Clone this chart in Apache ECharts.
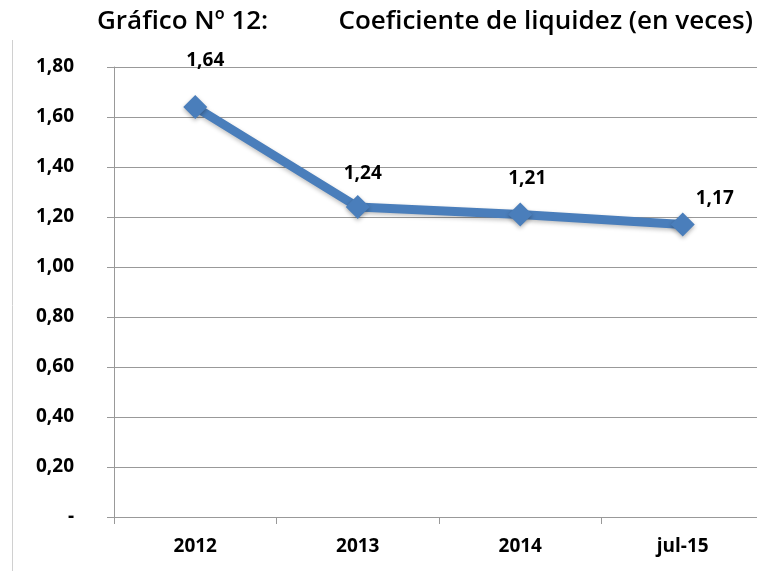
<!DOCTYPE html>
<html>
<head>
<meta charset="utf-8">
<script src="https://cdn.jsdelivr.net/npm/echarts@6/dist/echarts.min.js"></script>
<style>
  html, body { margin: 0; padding: 0; background: #fff; }
  #main { width: 757px; height: 571px; }
</style>
</head>
<body>
<div id="main"></div>
<script>
const categories = ['2012', '2013', '2014', 'jul-15'];
const liquidez = [1.64, 1.24, 1.21, 1.17];
// where each value label sits relative to its point (px), as in the original
const labelOffsets = [[10, -46], [5, -33], [7, -36], [32, -26]];

const fmt = v => v === 0 ? '-' : v.toFixed(2).replace('.', ',');

const chart = echarts.init(document.getElementById('main'));

const font = 'Open Sans';

chart.setOption({
  animation: false,
  title: [
    {
      text: 'Gráfico Nº 12:',
      left: 92, top: 4,
      textStyle: { fontFamily: font, fontWeight: 600, fontSize: 26, color: '#000' }
    },
    {
      text: 'Coeficiente de liquidez (en veces)',
      right: -1, top: 4,
      textStyle: { fontFamily: font, fontWeight: 600, fontSize: 26, color: '#000' }
    }
  ],
  graphic: [
    {
      type: 'line',
      shape: { x1: 12.5, y1: 40, x2: 12.5, y2: 571 },
      style: { stroke: '#d0d0d0', lineWidth: 1 }
    }
  ],
  grid: { left: 114, width: 650, top: 67, height: 450, outerBoundsMode: 'none' },
  xAxis: {
    type: 'category',
    data: categories,
    boundaryGap: true,
    axisLine: { lineStyle: { color: '#999', width: 1 } },
    axisTick: { show: true, length: 7, lineStyle: { color: '#999' } },
    axisLabel: {
      margin: 20,
      fontFamily: font, fontWeight: 'bold', fontSize: 19, color: '#000'
    }
  },
  yAxis: {
    type: 'value',
    min: 0, max: 1.8, interval: 0.2,
    axisLine: { show: true, lineStyle: { color: '#999', width: 1 } },
    axisTick: { show: true, length: 7, lineStyle: { color: '#999' } },
    splitLine: { lineStyle: { color: '#999', width: 1 } },
    axisLabel: {
      margin: 40, formatter: fmt,
      fontFamily: font, fontWeight: 'bold', fontSize: 19, color: '#000'
    }
  },
  series: [
    {
      type: 'line',
      data: liquidez.map((v, i) => ({ value: v, label: { offset: labelOffsets[i] } })),
      symbol: 'diamond',
      symbolSize: 24,
      lineStyle: {
        color: '#4a7ebb', width: 9,
        shadowColor: 'rgba(0,0,0,0.25)', shadowBlur: 4, shadowOffsetY: 2
      },
      itemStyle: {
        color: '#4a7ebb',
        shadowColor: 'rgba(0,0,0,0.3)', shadowBlur: 4, shadowOffsetY: 2
      },
      label: {
        show: true, position: 'inside',
        formatter: p => fmt(p.value),
        fontFamily: font, fontWeight: 'bold', fontSize: 19, color: '#000'
      }
    }
  ]
});
</script>
</body>
</html>
